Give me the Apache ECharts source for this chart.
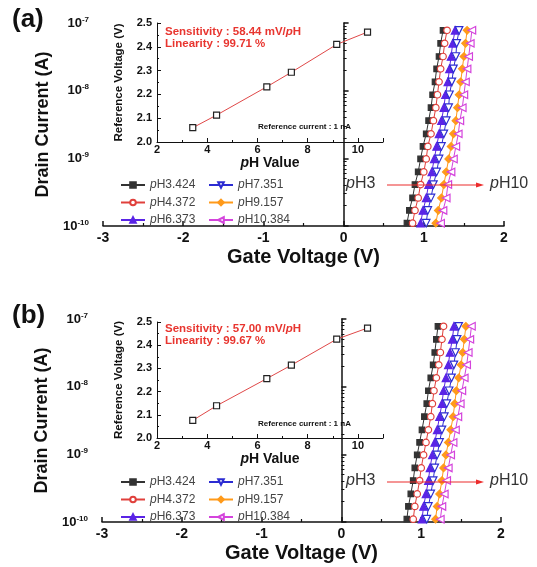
<!DOCTYPE html>
<html>
<head>
<meta charset="utf-8">
<script src="https://cdn.jsdelivr.net/npm/echarts@6/dist/echarts.min.js"></script>
<style>
html,body{margin:0;padding:0;background:#fff;}
#chart{width:537px;height:567px;}
</style>
</head>
<body>
<div id="chart"></div>
<script>
// pH buffers
const phNames = ['pH3.424', 'pH4.372', 'pH6.373', 'pH7.351', 'pH9.157', 'pH10.384'];
const phValues = [3.424, 4.372, 6.373, 7.351, 9.157, 10.384];

// inset: reference voltage at 1 nA
const refVoltageA = [2.060, 2.113, 2.232, 2.293, 2.410, 2.462];
const refVoltageB = [2.076, 2.139, 2.256, 2.314, 2.426, 2.474];

// main: drain current levels (A) and gate voltage of each curve (V)
const currentLevels = [1.1e-10, 1.7e-10, 2.6e-10, 4.1e-10, 6.3e-10, 9.8e-10, 1.5e-9, 2.3e-9,
  3.6e-9, 5.6e-9, 8.7e-9, 1.35e-8, 2.1e-8, 3.2e-8, 5.0e-8, 7.8e-8];
const gateVoltageA = [
  [0.79, 0.82, 0.86, 0.89, 0.93, 0.96, 0.99, 1.03, 1.06, 1.09, 1.11, 1.14, 1.16, 1.19, 1.21, 1.24],
  [0.86, 0.89, 0.93, 0.96, 1.00, 1.03, 1.05, 1.09, 1.12, 1.15, 1.17, 1.19, 1.21, 1.24, 1.26, 1.29],
  [0.96, 0.99, 1.03, 1.06, 1.10, 1.13, 1.16, 1.19, 1.22, 1.25, 1.27, 1.30, 1.32, 1.34, 1.36, 1.39],
  [1.03, 1.05, 1.09, 1.12, 1.16, 1.19, 1.22, 1.25, 1.28, 1.31, 1.32, 1.35, 1.37, 1.40, 1.41, 1.44],
  [1.15, 1.18, 1.22, 1.25, 1.28, 1.31, 1.34, 1.37, 1.40, 1.42, 1.44, 1.46, 1.48, 1.50, 1.52, 1.54],
  [1.21, 1.24, 1.28, 1.30, 1.34, 1.37, 1.40, 1.43, 1.45, 1.48, 1.50, 1.52, 1.54, 1.56, 1.58, 1.60]
];
const gateVoltageB = [
  [0.82, 0.84, 0.87, 0.90, 0.92, 0.95, 0.98, 1.01, 1.04, 1.07, 1.09, 1.12, 1.15, 1.17, 1.19, 1.21],
  [0.90, 0.92, 0.95, 0.98, 1.00, 1.03, 1.06, 1.09, 1.12, 1.14, 1.16, 1.19, 1.22, 1.24, 1.26, 1.28],
  [1.01, 1.03, 1.06, 1.09, 1.11, 1.14, 1.17, 1.20, 1.23, 1.26, 1.28, 1.31, 1.34, 1.36, 1.39, 1.41],
  [1.07, 1.09, 1.12, 1.15, 1.17, 1.20, 1.23, 1.26, 1.29, 1.32, 1.35, 1.38, 1.41, 1.43, 1.45, 1.47],
  [1.18, 1.20, 1.23, 1.26, 1.28, 1.31, 1.34, 1.37, 1.40, 1.42, 1.44, 1.47, 1.50, 1.52, 1.54, 1.56],
  [1.24, 1.26, 1.29, 1.32, 1.34, 1.37, 1.40, 1.43, 1.46, 1.49, 1.51, 1.54, 1.57, 1.59, 1.61, 1.63]
];

const sensitivity = ['58.44', '57.00'];
const linearity = ['99.71', '99.67'];

const FONT = 'Liberation Sans, Arial, sans-serif';

const markers = [
  {symbol: 'rect', rotate: 0, size: 5.5, fill: '#333', edge: '#333'},
  {symbol: 'circle', rotate: 0, size: 6.5, fill: '#fff', edge: '#e0403c'},
  {symbol: 'triangle', rotate: 0, size: 7.5, fill: '#5a24e6', edge: '#5a24e6'},
  {symbol: 'triangle', rotate: 180, size: 7.5, fill: '#fff', edge: '#2c2cd2'},
  {symbol: 'diamond', rotate: 0, size: 7.5, fill: '#ff9a1a', edge: '#ff9a1a'},
  {symbol: 'triangle', rotate: 90, size: 7.5, fill: '#fff', edge: '#d444dc'}
];

const pLabel = name => '{i|p}' + name.slice(1);

function mainAxes(grid) {
  const x = {
    type: 'value', gridIndex: grid, min: -3, max: 2, interval: 1,
    name: 'Gate Voltage (V)', nameLocation: 'middle', nameGap: 21,
    nameTextStyle: {fontSize: 20, fontWeight: 'bold', fontFamily: FONT, color: '#111'},
    axisLine: {lineStyle: {color: '#111', width: 1.5}},
    axisTick: {inside: true, length: 5, lineStyle: {color: '#111', width: 1.5}},
    minorTick: {show: true, splitNumber: 2, length: 3, lineStyle: {color: '#111', width: 1.2}},
    axisLabel: {margin: 5, fontSize: 14, fontWeight: 'bold', fontFamily: FONT, color: '#111'},
    splitLine: {show: false}
  };
  const y = {
    type: 'log', gridIndex: grid, min: 1e-10, max: 1e-7, logBase: 10,
    name: 'Drain Current (A)', nameLocation: 'middle', nameGap: 49, nameRotate: 90,
    nameTextStyle: {fontSize: 18, fontWeight: 'bold', fontFamily: FONT, color: '#111'},
    axisLine: {lineStyle: {color: '#111', width: 1.5}},
    axisTick: {inside: true, length: 5, lineStyle: {color: '#111', width: 1.5}},
    minorTick: {show: true, splitNumber: 9, length: 3, lineStyle: {color: '#111', width: 1}},
    axisLabel: {
      margin: 14, fontFamily: FONT,
      formatter: v => '{b|10}{s|' + Math.round(Math.log10(v)) + '}',
      rich: {
        b: {fontSize: 13, fontWeight: 'bold', fontFamily: FONT, color: '#111'},
        s: {fontSize: 8, fontWeight: 'bold', fontFamily: FONT, color: '#111', verticalAlign: 'top', padding: [0, 0, 7, 0]}
      }
    },
    splitLine: {show: false}
  };
  return [x, y];
}

function insetAxes(grid) {
  const x = {
    type: 'value', gridIndex: grid, min: 2, max: 11, interval: 2,
    name: '{i|p}H Value', nameLocation: 'middle', nameGap: 14,
    nameTextStyle: {fontSize: 14, fontWeight: 'bold', fontFamily: FONT, color: '#111',
      rich: {i: {fontSize: 14, fontWeight: 'bold', fontStyle: 'italic', fontFamily: FONT, color: '#111'}}},
    axisLine: {lineStyle: {color: '#111', width: 1}},
    axisTick: {inside: true, length: 4, lineStyle: {color: '#111'}},
    minorTick: {show: true, splitNumber: 2, length: 2, lineStyle: {color: '#111'}},
    axisLabel: {margin: 2, fontSize: 11, fontWeight: 'bold', fontFamily: FONT, color: '#111',
      formatter: v => (v <= 10 ? String(v) : '')},
    splitLine: {show: false}
  };
  const y = {
    type: 'value', gridIndex: grid, min: 2.0, max: 2.5, interval: 0.1,
    name: 'Reference Voltage (V)', nameLocation: 'middle', nameGap: 32, nameRotate: 90,
    nameTextStyle: {fontSize: 11.5, fontWeight: 'bold', fontFamily: FONT, color: '#111'},
    axisLine: {lineStyle: {color: '#111', width: 1}},
    axisTick: {inside: true, length: 4, lineStyle: {color: '#111'}},
    minorTick: {show: true, splitNumber: 2, length: 2, lineStyle: {color: '#111'}},
    axisLabel: {margin: 5, fontSize: 11, fontWeight: 'bold', fontFamily: FONT, color: '#111',
      formatter: v => v.toFixed(1)},
    splitLine: {show: false}
  };
  return [x, y];
}

function curveSeries(axisIdx, voltages) {
  return voltages.map((row, k) => {
    const m = markers[k];
    return {
      name: phNames[k], type: 'line', xAxisIndex: axisIdx, yAxisIndex: axisIdx,
      data: row.map((v, i) => [v, currentLevels[i]]),
      symbol: m.symbol, symbolRotate: m.rotate, symbolSize: m.size, showAllSymbol: true,
      itemStyle: {color: m.fill, borderColor: m.edge, borderWidth: 1.2},
      lineStyle: {color: m.edge, width: 1},
      emphasis: {disabled: true}, animation: false, z: 3
    };
  });
}

function refSeries(axisIdx, values) {
  return {
    name: 'ref', type: 'line', xAxisIndex: axisIdx, yAxisIndex: axisIdx,
    data: phValues.map((p, i) => [p, values[i]]),
    symbol: 'rect', symbolSize: 6,
    itemStyle: {color: '#fff', borderColor: '#222', borderWidth: 1.2},
    lineStyle: {color: '#e04848', width: 1},
    emphasis: {disabled: true}, animation: false, z: 4
  };
}

function legend(left, top, names) {
  return {
    orient: 'vertical', left: left, top: top, padding: 0,
    itemWidth: 24, itemHeight: 7, itemGap: 5.5, selectedMode: false,
    data: names,
    formatter: pLabel,
    textStyle: {fontSize: 12, color: '#444', fontFamily: FONT,
      rich: {i: {fontSize: 12, color: '#444', fontStyle: 'italic', fontFamily: FONT}}}
  };
}

function texts(topMain, topInset, arrowY, si) {
  const red = '#e8352f';
  const base = {fontFamily: FONT};
  return [
    {type: 'text', left: 12, top: topMain - 16, style: Object.assign({text: si === 0 ? '(a)' : '(b)', fontSize: 26, fontWeight: 'bold', fill: '#111'}, base)},
    {type: 'text', left: 165, top: topInset + 4, style: Object.assign({
      text: 'Sensitivity : ' + sensitivity[si] + ' mV/{i|p}H', fontSize: 11.5, fontWeight: 'bold', fill: red,
      rich: {i: {fontSize: 11.5, fontWeight: 'bold', fontStyle: 'italic', fill: red, fontFamily: FONT}}}, base)},
    {type: 'text', left: 165, top: topInset + 16, style: Object.assign({
      text: 'Linearity : ' + linearity[si] + ' %', fontSize: 11.5, fontWeight: 'bold', fill: red}, base)},
    {type: 'text', left: 258, top: topInset + 101, style: Object.assign({
      text: 'Reference current : 1 nA', fontSize: 8, fontWeight: 'bold', fill: '#111'}, base)},
    {type: 'text', left: 346, top: arrowY - 9, style: Object.assign({
      text: '{i|p}H3', fontSize: 16, fill: '#333',
      rich: {i: {fontSize: 16, fontStyle: 'italic', fill: '#333', fontFamily: FONT}}}, base)},
    {type: 'text', left: 490, top: arrowY - 9, style: Object.assign({
      text: '{i|p}H10', fontSize: 16, fill: '#333',
      rich: {i: {fontSize: 16, fontStyle: 'italic', fill: '#333', fontFamily: FONT}}}, base)},
    // red pH3 -> pH10 arrow over the curves
    {type: 'line', z: 100, shape: {x1: 387, y1: arrowY, x2: 477, y2: arrowY},
      style: {stroke: '#ec2c2c', lineWidth: 1.2}},
    {type: 'polygon', z: 100, shape: {points: [[476, arrowY - 2.5], [484, arrowY], [476, arrowY + 2.5]]},
      style: {fill: '#ec2c2c'}}
  ];
}

const [xa, ya] = mainAxes(0);
const [xia, yia] = insetAxes(1);
const [xb, yb] = mainAxes(2);
const [xib, yib] = insetAxes(3);

const chart = echarts.init(document.getElementById('chart'), null, {renderer: 'canvas'});
chart.setOption({
  backgroundColor: '#fff',
  animation: false,
  textStyle: {fontFamily: FONT},
  grid: [
    {left: 103, top: 23, width: 401, height: 203},
    {left: 157, top: 23, width: 226, height: 119},
    {left: 102, top: 319, width: 399, height: 203},
    {left: 157, top: 322, width: 226, height: 116}
  ],
  xAxis: [xa, xia, xb, xib],
  yAxis: [ya, yia, yb, yib],
  legend: [
    legend(120, 179, phNames.slice(0, 3)),
    legend(208, 179, phNames.slice(3)),
    legend(120, 476, phNames.slice(0, 3)),
    legend(208, 476, phNames.slice(3))
  ],
  series: [].concat(
    curveSeries(0, gateVoltageA),
    [refSeries(1, refVoltageA)],
    curveSeries(2, gateVoltageB),
    [refSeries(3, refVoltageB)]
  ),
  graphic: [].concat(texts(23, 22, 185, 0), texts(319, 319, 482, 1))
});
</script>
</body>
</html>
